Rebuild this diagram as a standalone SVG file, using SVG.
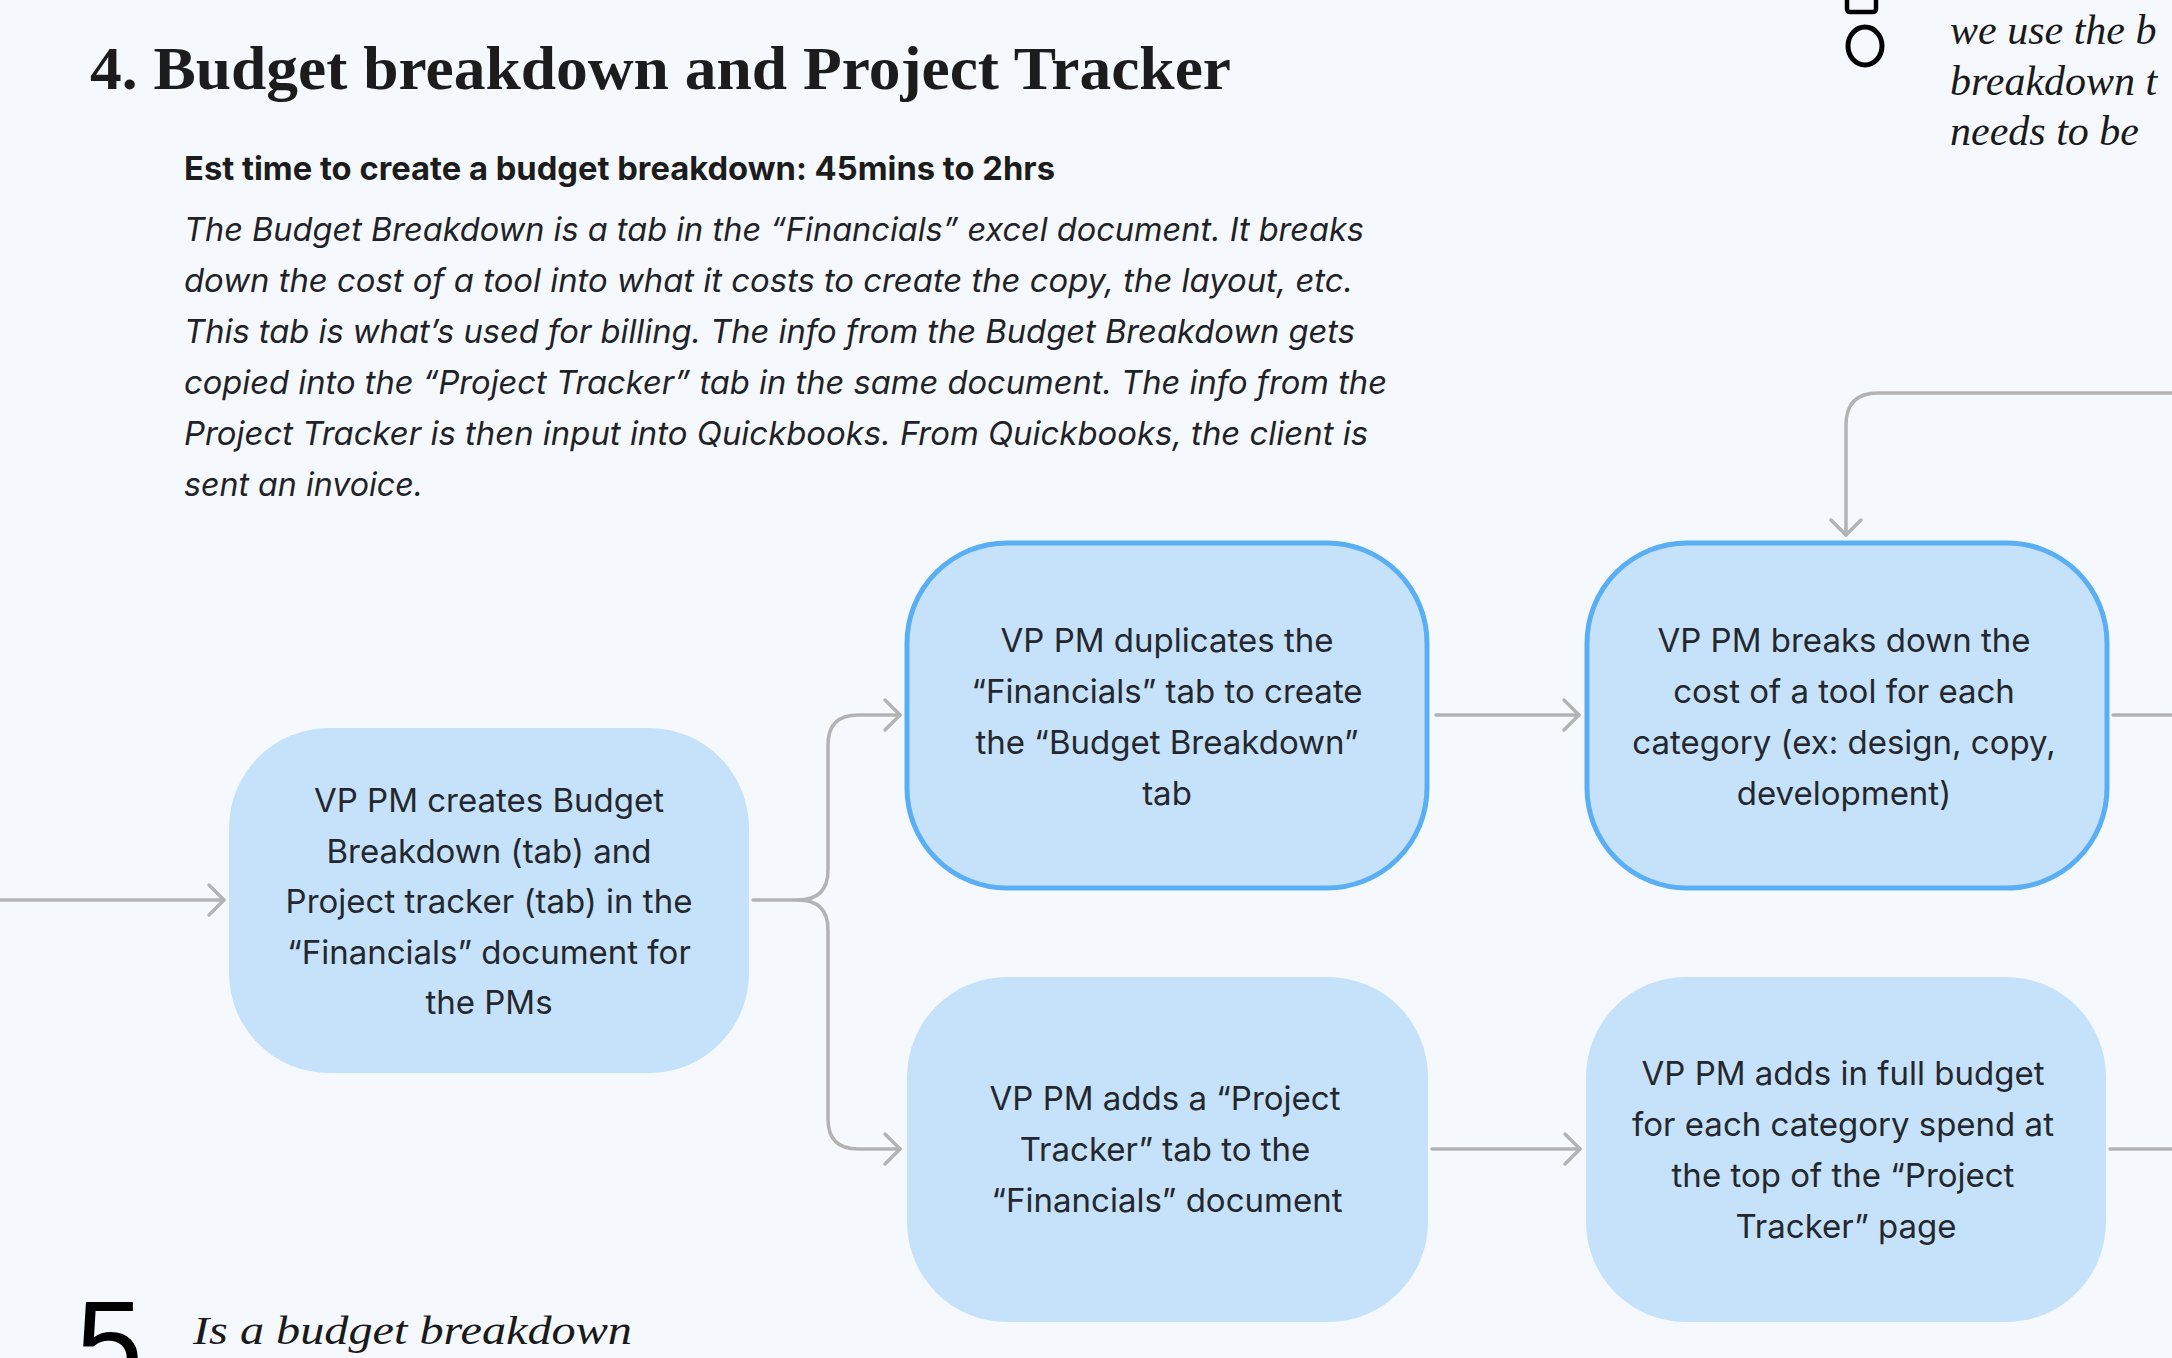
<svg xmlns="http://www.w3.org/2000/svg" width="2172" height="1358" viewBox="0 0 2172 1358">
<style>
.bg{fill:#F5F9FE}
.node{fill:#C5E2FA}
.sel{stroke:#5AAFF4;stroke-width:5}
.nt{font-family:Inter,"Noto Sans",sans-serif;font-size:33px;fill:#24282E;text-anchor:middle}
.conn{fill:none;stroke:#B3B3B3;stroke-width:3.5;stroke-linecap:round;stroke-linejoin:round}
.para{font-family:Inter,"Noto Sans",sans-serif;font-size:32.5px;font-style:italic;fill:#1F2226}
.hand{font-family:"Liberation Serif",serif;font-style:italic;fill:#1A1A1A}
</style>
<defs>
<marker id="arr" markerUnits="userSpaceOnUse" markerWidth="40" markerHeight="40" viewBox="-20 -20 40 40" refX="0" refY="0" orient="auto">
<path d="M-15,-15 L0,0 L-15,15" fill="none" stroke="#B3B3B3" stroke-width="3.5" stroke-linecap="round" stroke-linejoin="round"/>
</marker>
</defs>
<rect class="bg" x="0" y="0" width="2172" height="1358"/>

<g id="title">
<text x="90" y="89" font-family="'Liberation Serif',serif" font-weight="bold" font-size="62" fill="#1C1C1C" textLength="1141" lengthAdjust="spacingAndGlyphs">4. Budget breakdown and Project Tracker</text>
</g>
<g id="description">
<text x="184" y="180" font-family="Inter,'Noto Sans',sans-serif" font-weight="700" font-size="32" fill="#1C1C1C" textLength="871" lengthAdjust="spacingAndGlyphs">Est time to create a budget breakdown: 45mins to 2hrs</text>
<text class="para" x="184" y="241" textLength="1180" lengthAdjust="spacingAndGlyphs">The Budget Breakdown is a tab in the “Financials” excel document. It breaks</text>
<text class="para" x="184" y="292" textLength="1169" lengthAdjust="spacingAndGlyphs">down the cost of a tool into what it costs to create the copy, the layout, etc.</text>
<text class="para" x="184" y="343" textLength="1171" lengthAdjust="spacingAndGlyphs">This tab is what’s used for billing. The info from the Budget Breakdown gets</text>
<text class="para" x="184" y="394" textLength="1203" lengthAdjust="spacingAndGlyphs">copied into the “Project Tracker” tab in the same document. The info from the</text>
<text class="para" x="184" y="445" textLength="1184" lengthAdjust="spacingAndGlyphs">Project Tracker is then input into Quickbooks. From Quickbooks, the client is</text>
<text class="para" x="184" y="496" textLength="239" lengthAdjust="spacingAndGlyphs">sent an invoice.</text>
</g>

<g id="connectors">
<path class="conn" d="M0,900 H224" marker-end="url(#arr)"/>
<path class="conn" d="M753,900 H798 Q828,900 828,870 V745 Q828,715 858,715 H900" marker-end="url(#arr)"/>
<path class="conn" d="M798,900 Q828,900 828,930 V1119 Q828,1149 858,1149 H900" marker-end="url(#arr)"/>
<path class="conn" d="M1436,715 H1579" marker-end="url(#arr)"/>
<path class="conn" d="M1432,1149 H1580" marker-end="url(#arr)"/>
<path class="conn" d="M2113,715 H2175"/>
<path class="conn" d="M2110,1149 H2175"/>
<path class="conn" d="M2175,393 H1878 Q1846,393 1846,425 V535" marker-end="url(#arr)"/>
</g>

<g id="node-create">
<rect class="node" x="229" y="728" width="520" height="345" rx="100" ry="100"/>
<text class="nt" x="489" y="812">VP PM creates Budget</text>
<text class="nt" x="489" y="863">Breakdown (tab) and</text>
<text class="nt" x="489" y="913">Project tracker (tab) in the</text>
<text class="nt" x="489" y="964">“Financials” document for</text>
<text class="nt" x="489" y="1014">the PMs</text>
</g>

<g id="node-duplicate">
<rect class="node sel" x="907" y="543" width="520" height="345" rx="100" ry="100"/>
<text class="nt" x="1167" y="652">VP PM duplicates the</text>
<text class="nt" x="1167" y="703">“Financials” tab to create</text>
<text class="nt" x="1167" y="754">the “Budget Breakdown”</text>
<text class="nt" x="1167" y="805">tab</text>
</g>

<g id="node-breakdown">
<rect class="node sel" x="1587" y="543" width="520" height="345" rx="100" ry="100"/>
<text class="nt" x="1844" y="652">VP PM breaks down the</text>
<text class="nt" x="1844" y="703">cost of a tool for each</text>
<text class="nt" x="1844" y="754">category (ex: design, copy,</text>
<text class="nt" x="1844" y="805">development)</text>
</g>

<g id="node-tracker">
<rect class="node" x="907" y="977" width="521" height="345" rx="100" ry="100"/>
<text class="nt" x="1165" y="1110">VP PM adds a “Project</text>
<text class="nt" x="1165" y="1161">Tracker” tab to the</text>
<text class="nt" x="1167" y="1212">“Financials” document</text>
</g>

<g id="node-fullbudget">
<rect class="node" x="1586" y="977" width="520" height="345" rx="100" ry="100"/>
<text class="nt" x="1843" y="1085">VP PM adds in full budget</text>
<text class="nt" x="1843" y="1136">for each category spend at</text>
<text class="nt" x="1843" y="1187">the top of the “Project</text>
<text class="nt" x="1846" y="1238">Tracker” page</text>
</g>

<g id="note-top-right">
<rect x="1847" y="-20" width="29" height="32" fill="none" stroke="#000" stroke-width="4.5" rx="3"/>
<ellipse cx="1865" cy="46" rx="17" ry="19" fill="none" stroke="#000" stroke-width="5"/>
<text class="hand" x="1950" y="44" font-size="42">we use the b</text>
<text class="hand" x="1950" y="95" font-size="42">breakdown t</text>
<text class="hand" x="1950" y="145" font-size="42">needs to be</text>
</g>

<g id="section-5">
<text x="76" y="1385" font-family="'Liberation Sans',sans-serif" font-size="120" fill="#000">5</text>
<text class="hand" x="193" y="1344" font-size="40" textLength="439" lengthAdjust="spacingAndGlyphs">Is a budget breakdown</text>
</g>
</svg>
